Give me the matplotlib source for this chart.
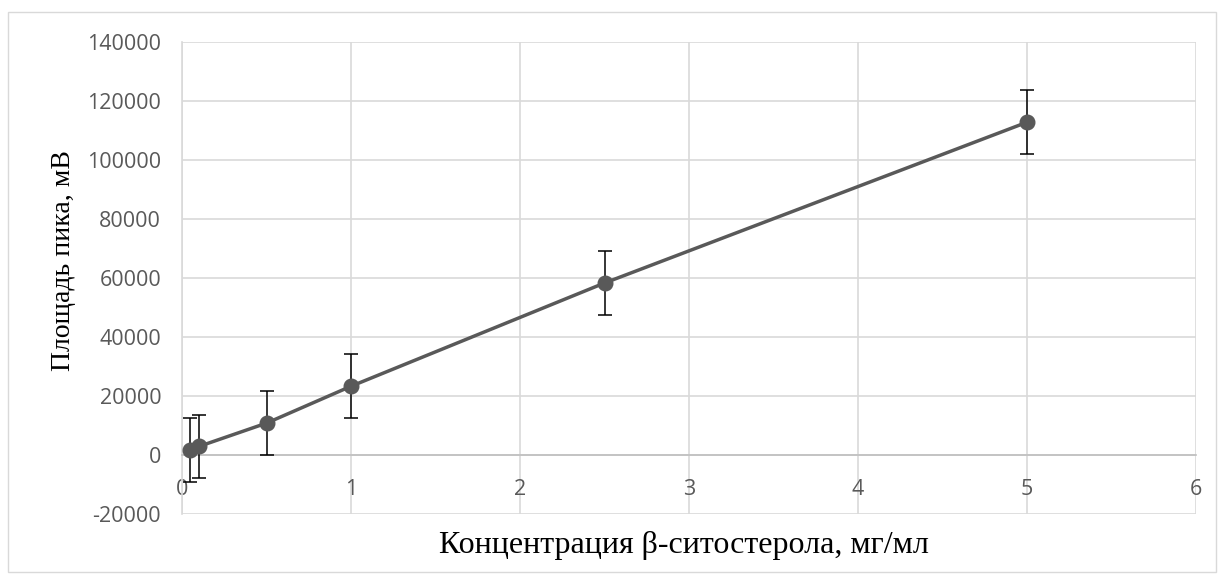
import matplotlib.pyplot as plt
from matplotlib.patches import Rectangle

plt.rcParams["axes.unicode_minus"] = False

conc = [0.05, 0.1, 0.5, 1.0, 2.5, 5.0]
area = [1800, 2900, 10800, 23300, 58300, 112800]
err = [10800, 10800, 10800, 10800, 10800, 10800]

x_ticks = [0, 1, 2, 3, 4, 5, 6]
y_ticks = [-20000, 0, 20000, 40000, 60000, 80000, 100000, 120000, 140000]

fig = plt.figure(figsize=(12.24, 5.8), dpi=100)
ax = fig.add_axes([182/1224, 1 - 514/580, (1196-182)/1224, (514-42)/580])

ax.errorbar(conc, area, yerr=err, color="#595959", lw=2.5, marker="o",
            markersize=10.5, ecolor="black", elinewidth=1.1, capsize=5,
            capthick=1.1, zorder=3)

ax.set_xlim(0, 6)
ax.set_ylim(-20000, 140000)
ax.set_xticks(x_ticks)
ax.set_yticks(y_ticks)
ax.grid(True, color="#d9d9d9", lw=1.2)
ax.set_axisbelow(True)

for s in ["top", "right"]:
    ax.spines[s].set_visible(False)
ax.spines["bottom"].set_position(("data", 0))
ax.spines["bottom"].set_color("#bfbfbf")
ax.spines["left"].set_color("#d9d9d9")
ax.spines["bottom"].set_linewidth(1.2)
ax.spines["left"].set_linewidth(1.2)
ax.tick_params(length=0, labelsize=15.5, labelcolor="#595959")
ax.tick_params(axis="y", pad=15)
ax.tick_params(axis="x", pad=17)
for t in ax.get_xticklabels() + ax.get_yticklabels():
    t.set_fontfamily("Open Sans")

fig.text(684/1224, 1 - 546/580, "Концентрация β-ситостерола, мг/мл",
         ha="center", va="center", fontsize=23, family="Liberation Serif")
fig.text(64/1224, 1 - 261/580, "Площадь пика, мВ", rotation=90, ha="center",
         va="center", fontsize=20, family="Liberation Serif")

fig.patches.append(Rectangle((8/1224, 8/580), 1208/1224, 560/580, transform=fig.transFigure,
                             fill=False, edgecolor="#d9d9d9", lw=1))

fig.savefig("out.png", dpi=100)
